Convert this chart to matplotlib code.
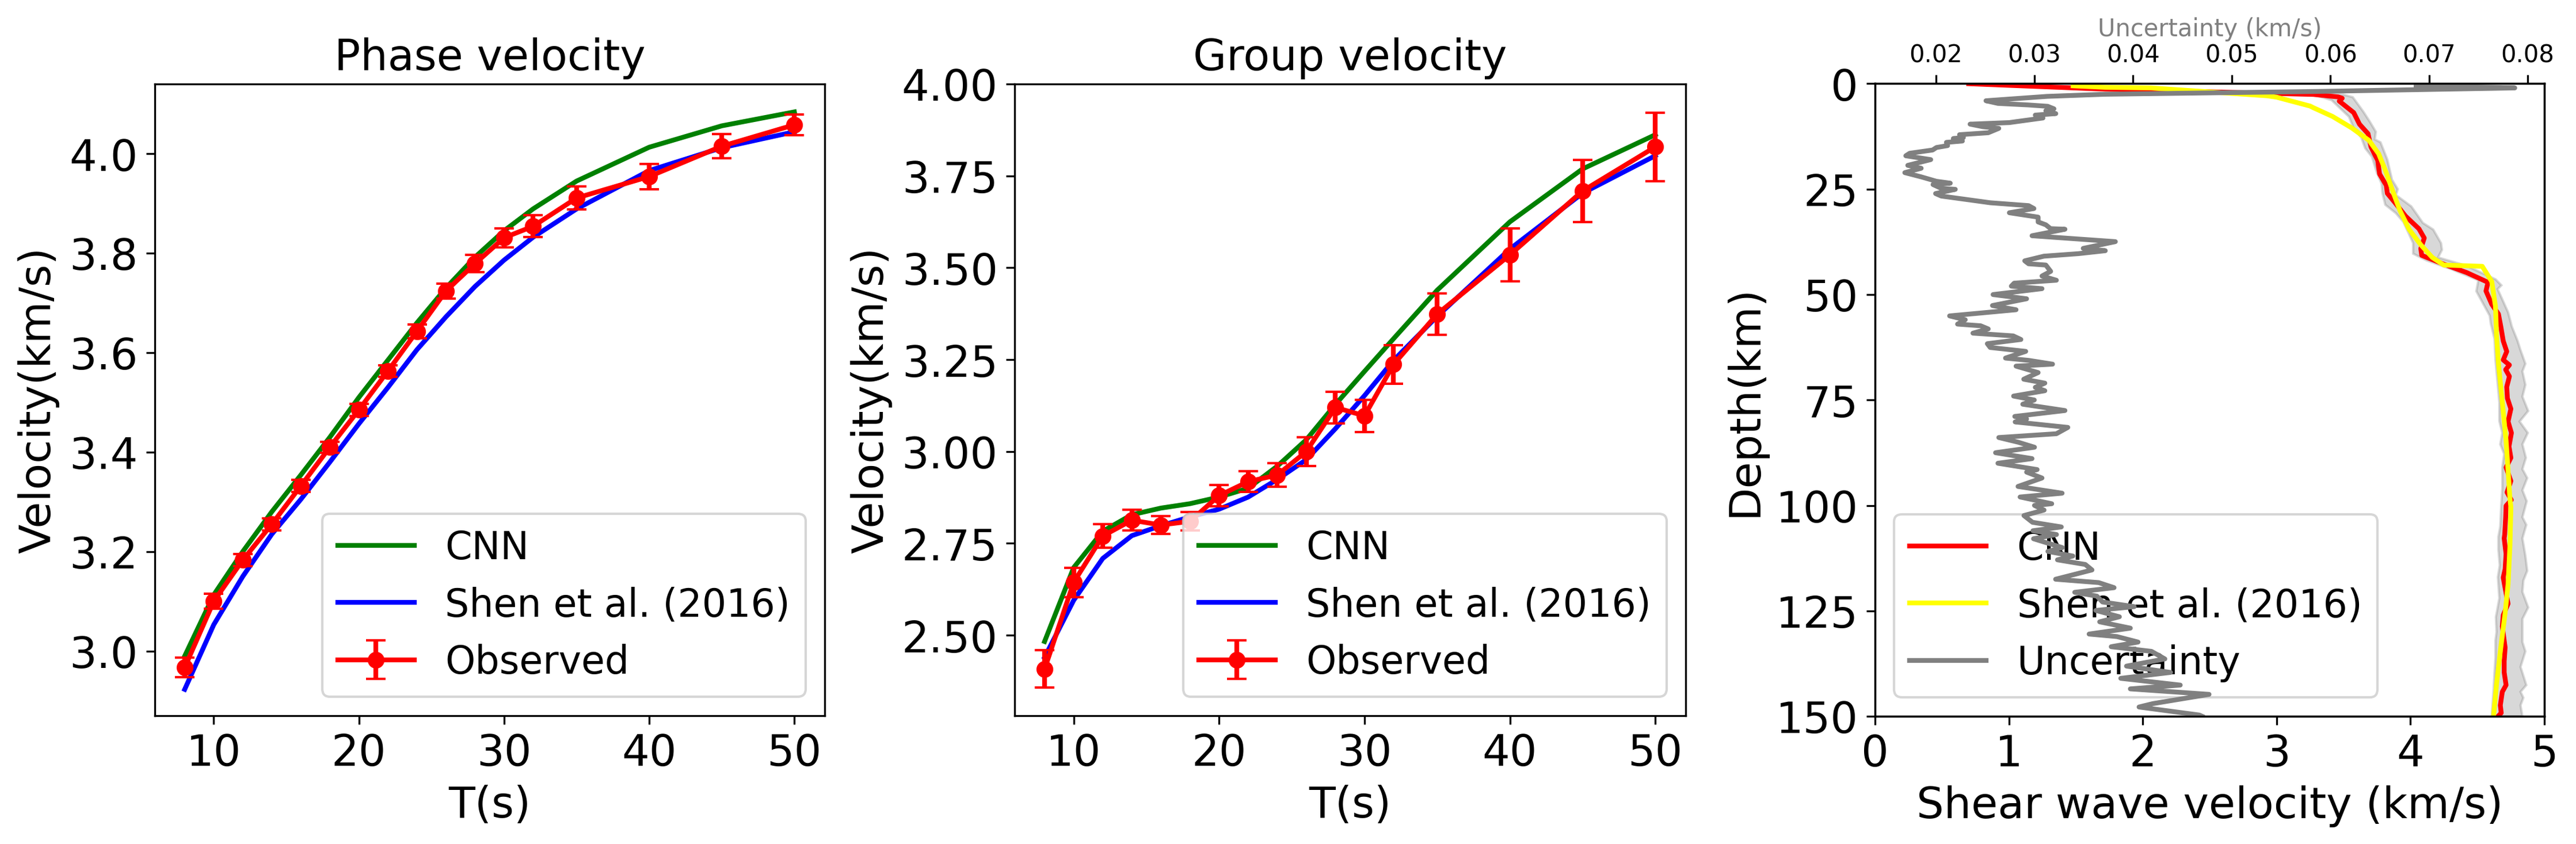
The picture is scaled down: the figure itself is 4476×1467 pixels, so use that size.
import matplotlib
matplotlib.use('Agg')
import matplotlib.pyplot as plt
import numpy as np

# periods (s)
periods = [8, 10, 12, 14, 16, 18, 20, 22, 24, 26, 28, 30, 32, 35, 40, 45, 50]

# phase velocity (km/s)
phase_obs = [2.967, 3.100, 3.183, 3.255, 3.332, 3.410, 3.485, 3.563, 3.643, 3.724, 3.779, 3.831, 3.854,
             3.911, 3.954, 4.015, 4.058]
phase_err = [0.020, 0.015, 0.012, 0.012, 0.012, 0.011, 0.012, 0.012, 0.014, 0.015, 0.017, 0.019, 0.022,
             0.023, 0.025, 0.024, 0.021]
phase_cnn = [2.990, 3.113, 3.200, 3.280, 3.354, 3.430, 3.510, 3.585, 3.660, 3.730, 3.792, 3.845, 3.889,
             3.945, 4.013, 4.056, 4.084]
phase_shen = [2.923, 3.053, 3.150, 3.235, 3.305, 3.380, 3.457, 3.530, 3.606, 3.672, 3.733, 3.786, 3.832,
              3.889, 3.966, 4.012, 4.044]

# group velocity (km/s)
group_obs = [2.408, 2.644, 2.770, 2.813, 2.800, 2.810, 2.880, 2.918, 2.936, 3.000, 3.120, 3.097, 3.237,
             3.374, 3.535, 3.709, 3.829]
group_err = [0.051, 0.040, 0.032, 0.028, 0.025, 0.025, 0.029, 0.028, 0.032, 0.039, 0.043, 0.044, 0.053,
             0.056, 0.072, 0.084, 0.093]
group_cnn = [2.483, 2.684, 2.783, 2.828, 2.846, 2.858, 2.876, 2.900, 2.960, 3.032, 3.128, 3.218, 3.307,
             3.439, 3.625, 3.769, 3.862]
group_shen = [2.440, 2.595, 2.709, 2.771, 2.798, 2.822, 2.843, 2.876, 2.924, 2.978, 3.062, 3.152, 3.248,
              3.368, 3.551, 3.703, 3.805]

# shear velocity model, CNN
cnn_depth = [0, 1.3, 2.54, 3.13, 3.45, 4.13, 6.86, 9.6, 11.86, 15.0, 18.2, 21.4, 24.1, 26.0, 28.2, 31.4,
             34.4, 36.6, 39.1, 40.7, 42.8, 44.8, 47.1, 49.15, 52.3, 54.6, 57.8, 61, 63.5, 65.5, 66.7, 67.8,
             69.4, 71.9, 74.6, 77.1, 80.1, 82.8, 86, 88.7, 91, 94.2, 96.9, 98.7, 100.1, 102.8, 106.9, 107.8,
             111.5, 115.1, 117.1, 119.6, 123.3, 126, 128.7, 133.7, 136.9, 139.6, 142.6, 144.2, 147.4, 149.2,
             149.9]
cnn_vs = [0.70, 1.72, 3.275, 3.46, 3.49, 3.468, 3.576, 3.619, 3.683, 3.705, 3.755, 3.769, 3.819, 3.827,
          3.884, 3.963, 4.063, 4.103, 4.077, 4.084, 4.249, 4.421, 4.579, 4.564, 4.607, 4.657, 4.676, 4.693,
          4.719, 4.693, 4.739, 4.711, 4.739, 4.719, 4.724, 4.750, 4.729, 4.754, 4.736, 4.750, 4.714, 4.750,
          4.721, 4.753, 4.714, 4.711, 4.704, 4.700, 4.714, 4.707, 4.693, 4.707, 4.729, 4.693, 4.686, 4.707,
          4.700, 4.700, 4.714, 4.686, 4.671, 4.678, 4.657]

# shear velocity model, Shen et al.
shen_depth = [0.5, 0.85, 1.0, 2.87, 3.2, 5.3, 5.7, 7.77, 10.5, 13.45, 16.6, 20.5, 25, 30, 34.6, 38.2, 41.2,
              43, 43.3, 46.9, 52.8, 59.6, 66.4, 75.5, 84.6, 98.3, 100.5, 109.6, 118.7, 125.5, 134.6, 142.4,
              149.7]
shen_vs = [1.48, 1.72, 2.06, 2.93, 3.00, 3.25, 3.275, 3.418, 3.562, 3.690, 3.762, 3.812, 3.862, 3.920,
           3.991, 4.077, 4.163, 4.249, 4.536, 4.607, 4.635, 4.643, 4.657, 4.686, 4.714, 4.743, 4.750, 4.743,
           4.729, 4.707, 4.671, 4.643, 4.621]

# spread of the CNN model
band_left_depth = [0, 2.6, 3.9, 7.8, 10.5, 12.8, 15.3, 17.3, 21, 23.7, 26, 28.7, 30.7, 32.8, 37.8, 40.3,
                   41.9, 44, 46.6, 49.2, 55, 56.9, 60.5, 65.5, 75.5, 80, 82.8, 85.5, 87.8, 91, 96, 100,
                   105, 107.4, 110.5, 114.2, 117, 122, 126.5, 130, 132, 136, 139.6, 143.7, 150]
band_left = [0.70, 3.275, 3.411, 3.54, 3.576, 3.633, 3.662, 3.712, 3.748, 3.784, 3.791, 3.812, 3.891, 3.948,
             4.020, 4.020, 4.120, 4.307, 4.507, 4.492, 4.592, 4.600, 4.628, 4.635, 4.664, 4.664, 4.686,
             4.671, 4.700, 4.686, 4.686, 4.678, 4.671, 4.657, 4.657, 4.667, 4.653, 4.664, 4.638, 4.643,
             4.635, 4.635, 4.628, 4.621, 4.607]
band_right_depth = [0, 2.6, 3.2, 6.6, 9.1, 11.4, 13.2, 13.9, 18, 22.8, 25, 26.4, 29.1, 33, 34.6, 37.8, 39.4,
                    41.2, 43.2, 46.4, 47.8, 48.7, 54.2, 57.6, 61, 63.2, 66.4, 68.2, 71.4, 74.2, 77.6, 80.1,
                    82.8, 85.5, 88.7, 91.4, 93.5, 96.4, 99, 102.8, 104.6, 107.8, 111.9, 115.5, 117.8, 120.5,
                    124.2, 126.9, 132.4, 134.6, 138.3, 142.6, 144.2, 145.6, 147.4, 150]
band_right = [0.70, 3.50, 3.569, 3.647, 3.698, 3.741, 3.733, 3.776, 3.827, 3.862, 3.905, 3.891, 4.006, 4.092,
              4.170, 4.228, 4.235, 4.206, 4.421, 4.636, 4.679, 4.651, 4.729, 4.757, 4.800, 4.822, 4.858,
              4.836, 4.858, 4.836, 4.879, 4.815, 4.876, 4.836, 4.862, 4.836, 4.872, 4.836, 4.868, 4.836,
              4.865, 4.836, 4.858, 4.872, 4.843, 4.836, 4.879, 4.836, 4.836, 4.858, 4.822, 4.865, 4.822,
              4.843, 4.822, 4.836]

# uncertainty profile (km/s)
unc_depth = [0.4, 1.0, 1.85, 2.5, 3.0, 4.04, 4.67, 5.04, 5.36, 5.95, 6.40, 7.09, 7.45, 8.13, 9.22, 9.59,
             10.18, 10.59, 11.63, 12.09, 12.77, 13.00, 13.59, 13.91, 14.68, 15.13, 15.72, 16.50, 17.09, 18.0,
             19.36, 20.05, 21.09, 22.09, 23.14, 23.59, 23.91, 24.82, 25.05, 26.05, 26.64, 28.23, 28.91, 29.6,
             30.6, 31.64, 32.78, 33.46, 34.37, 34.51, 36.05, 36.64, 37.45, 39.05, 39.6, 40.3, 40.9, 42.0,
             42.7, 43.0, 44.5, 45.6, 46.6, 47.3, 48.0, 48.6, 50.0, 51.0, 52.6, 53.6, 55.06, 55.97, 57.0, 57.4,
             58.15, 59.15, 59.8, 60.65, 61.65, 62.55, 63.47, 65.06, 65.6, 66.5, 66.97, 68.5, 70.07, 71.0,
             72.0, 72.8, 74.07, 75.0, 76.0, 77.5, 78.9, 79.5, 80.2, 81.5, 83.0, 83.9, 85.0, 86.2, 87.5, 88.9,
             90.0, 91.5, 92.1, 93.5, 95.5, 97.1, 98.0, 99.6, 100, 101.1, 102.4, 104, 105.1, 106, 106.9, 107.9,
             110, 110.9, 112, 112.9, 114, 115.3, 117.5, 118.3, 119.5, 120.6, 121.5, 122.9, 124, 124.9, 126.4,
             127.6, 129.1, 130.5, 131.1, 132.4, 133.5, 134.6, 136.4, 138.1, 139.6, 141, 142.6, 143.5, 144.8,
             147, 147.8, 149.7, 150]
unc = [0.0687, 0.0787, 0.0583, 0.0372, 0.0313, 0.02508, 0.02629, 0.02940, 0.03134, 0.03197, 0.03115, 0.03216,
       0.03008, 0.03086, 0.02745, 0.02347, 0.02473, 0.02638, 0.02531, 0.02240, 0.02279, 0.02177, 0.02269,
       0.02107, 0.02119, 0.02006, 0.01967, 0.01734, 0.01695, 0.01948, 0.01715, 0.01851, 0.01685, 0.01851,
       0.02006, 0.02146, 0.01971, 0.02055, 0.02197, 0.01997, 0.02055, 0.02551, 0.02940, 0.02994, 0.02745,
       0.03037, 0.03037, 0.03115, 0.03163, 0.03309, 0.02975, 0.03329, 0.0382, 0.03494, 0.03718, 0.03445,
       0.03095, 0.02901, 0.0294, 0.03115, 0.03164, 0.03076, 0.03222, 0.02794, 0.02765, 0.03076, 0.02580,
       0.02920, 0.02574, 0.02813, 0.02139, 0.02298, 0.02220, 0.02454, 0.02531, 0.02376, 0.02784, 0.02862,
       0.02522, 0.02551, 0.02911, 0.02706, 0.02940, 0.03183, 0.02813, 0.03037, 0.02891, 0.03105, 0.03008,
       0.03105, 0.02788, 0.02998, 0.02881, 0.03309, 0.02800, 0.02920, 0.02804, 0.03338, 0.03222, 0.02638,
       0.02833, 0.03000, 0.02605, 0.02975, 0.02629, 0.03027, 0.02920, 0.03076, 0.02833, 0.03280, 0.02854,
       0.03175, 0.03000, 0.03097, 0.02893, 0.02980, 0.03272, 0.02984, 0.03223, 0.02990, 0.03282, 0.03136,
       0.03389, 0.03233, 0.03515, 0.03583, 0.03214, 0.03651, 0.03807, 0.03408, 0.03632, 0.03690, 0.04011,
       0.03622, 0.03861, 0.03661, 0.03972, 0.03554, 0.03836, 0.04050, 0.03778, 0.04186, 0.04322, 0.03933,
       0.04380, 0.03875, 0.04478, 0.03972, 0.0477, 0.0420, 0.0406, 0.0467, 0.0470]

plt.rcParams['font.size'] = 18
fig, axes = plt.subplots(1, 3, figsize=(14.92, 4.893))
axes[0].set_position([269/4476, 1 - 1245/1468, (1433 - 269)/4476, (1245 - 147)/1468])
axes[1].set_position([1763/4476, 1 - 1245/1468, (2929 - 1763)/4476, (1245 - 147)/1468])
axes[2].set_position([3258/4476, 1 - 1246/1468, (4421 - 3258)/4476, (1246 - 146.4)/1468])

panels = [(axes[0], phase_cnn, phase_shen, phase_obs, phase_err, 'Phase velocity', (2.87, 4.14)),
          (axes[1], group_cnn, group_shen, group_obs, group_err, 'Group velocity', (2.281, 4.0))]
for ax, cnn, shen, obs, err, title, ylim in panels:
    ax.plot(periods, cnn, color='green', lw=2, label='CNN')
    ax.plot(periods, shen, color='blue', lw=2, label='Shen et al. (2016)')
    ax.errorbar(periods, obs, yerr=err, color='red', lw=2, marker='o', capsize=4, capthick=1,
                label='Observed')
    ax.set_xlim(5.94, 52.09)
    ax.set_ylim(*ylim)
    ax.set_xticks([10, 20, 30, 40, 50])
    ax.set_xlabel('T(s)')
    ax.set_ylabel('Velocity(km/s)')
    ax.set_title(title, fontsize=18)
    ax.legend(loc='lower right', fontsize=16)
axes[1].set_yticks([2.5, 2.75, 3.0, 3.25, 3.5, 3.75, 4.0])

# depth panel, uncertainty goes on a second x axis on top
ax = axes[2]
ax.fill(band_left + band_right[::-1], band_left_depth + band_right_depth[::-1], color='gray', alpha=0.3)
l1, = ax.plot(cnn_vs, cnn_depth, color='red', lw=2, label='CNN')
l2, = ax.plot(shen_vs, shen_depth, color='yellow', lw=2, label='Shen et al. (2016)')
ax.set_xlim(0, 5)
ax.set_ylim(150, 0)
ax.set_yticks(np.arange(0, 151, 25))
ax.set_xlabel('Shear wave velocity (km/s)')
ax.set_ylabel('Depth(km)')

ax2 = ax.twiny()
ax2.set_position(ax.get_position())
l3, = ax2.plot(unc, unc_depth, color='gray', lw=2, label='Uncertainty')
ax2.set_xlim(0.01383, 0.0817)
ax2.set_ylim(150, 0)
ax2.set_xticks([0.02, 0.03, 0.04, 0.05, 0.06, 0.07, 0.08])
ax2.tick_params(axis='x', labelsize=10)
ax2.set_xlabel('Uncertainty (km/s)', fontsize=10, color='gray', labelpad=3)
ax.legend(handles=[l1, l2, l3], loc='lower left', fontsize=16)

fig.savefig('out.png', dpi=300)
